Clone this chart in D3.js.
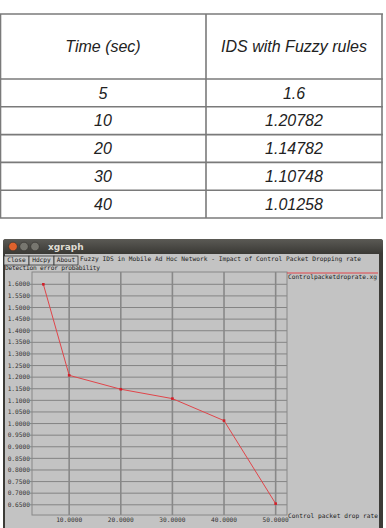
<!DOCTYPE html>
<html>
<head>
<meta charset="utf-8">
<script src="https://cdn.jsdelivr.net/npm/d3@7"></script>
<style>
  body { margin: 0; background: #fff; }
  svg { display: block; }
</style>
</head>
<body>
<div id="chart"></div>
<script>
// table data
const tableHeaders = ['Time (sec)', 'IDS with Fuzzy rules'];
const tableTimes = ['5', '10', '20', '30', '40'];
const tableFuzzy = ['1.6', '1.20782', '1.14782', '1.10748', '1.01258'];

// xgraph data
const graphX = [5, 10, 20, 30, 40, 50];
const graphY = [1.6, 1.20782, 1.14782, 1.10748, 1.01258, 0.655];
const xTicks = [10, 20, 30, 40, 50];
const yTicks = d3.range(0.65, 1.6001, 0.05);
const graphTitle = 'Fuzzy IDS in Mobile Ad Hoc Network - Impact of Control Packet Dropping rate';
const yAxisLabel = 'Detection error probability';
const xAxisLabel = 'Control packet drop rate';
const legendLabel = 'Controlpacketdroprate.xg';
const windowButtons = ['Close', 'Hdcpy', 'About'];

const width = 386;
const height = 528;

const svg = d3.select('#chart')
  .append('svg')
  .attr('width', width)
  .attr('height', height);

// ---------- table ----------
const tableLeft = 0;
const tableRight = 382;
const colSplit = 206;
const headerTop = 14;
const headerBottom = 79;
const rowH = 27.8;
const lineColor = '#7a7a7a';

const rowScale = d3.scaleLinear()
  .domain([0, tableTimes.length])
  .range([headerBottom, headerBottom + rowH * tableTimes.length]);

const table = svg.append('g');

const hLines = [headerTop].concat(d3.range(tableTimes.length + 1).map(i => rowScale(i)));
table.selectAll('line.h')
  .data(hLines)
  .enter()
  .append('line')
  .attr('x1', tableLeft)
  .attr('x2', tableRight + 1)
  .attr('y1', d => d)
  .attr('y2', d => d)
  .attr('stroke', lineColor)
  .attr('stroke-width', 1.6);

table.selectAll('line.v')
  .data([tableLeft + 0.5, colSplit, tableRight])
  .enter()
  .append('line')
  .attr('x1', d => d)
  .attr('x2', d => d)
  .attr('y1', headerTop)
  .attr('y2', rowScale(tableTimes.length))
  .attr('stroke', lineColor)
  .attr('stroke-width', 1.6);

const col1 = (tableLeft + colSplit) / 2;
const col2 = (colSplit + tableRight) / 2;

table.selectAll('text.head')
  .data(tableHeaders)
  .enter()
  .append('text')
  .attr('x', (d, i) => (i === 0 ? col1 : col2))
  .attr('y', (headerTop + headerBottom) / 2)
  .attr('dy', '0.35em')
  .attr('text-anchor', 'middle')
  .attr('font-family', 'Liberation Sans, Arial, sans-serif')
  .attr('font-style', 'italic')
  .attr('font-size', 16)
  .attr('fill', '#222')
  .text(d => d);

tableTimes.forEach(function (t, i) {
  const cy = (rowScale(i) + rowScale(i + 1)) / 2;
  [t, tableFuzzy[i]].forEach(function (v, j) {
    table.append('text')
      .attr('x', j === 0 ? col1 : col2)
      .attr('y', cy)
      .attr('dy', '0.35em')
      .attr('text-anchor', 'middle')
      .attr('font-family', 'Liberation Sans, Arial, sans-serif')
      .attr('font-style', 'italic')
      .attr('font-size', 16)
      .attr('fill', '#222')
      .text(v);
  });
});

// ---------- xgraph window ----------
const win = svg.append('g');
const winLeft = 3;
const winRight = 383;
const winTop = 239;
const barH = 15;
const mono = 'DejaVu Sans Mono, Liberation Mono, monospace';

const defs = svg.append('defs');
const grad = defs.append('linearGradient')
  .attr('id', 'titlebar')
  .attr('x1', 0).attr('x2', 0).attr('y1', 0).attr('y2', 1);
grad.append('stop').attr('offset', '0%').attr('stop-color', '#5b5a55');
grad.append('stop').attr('offset', '100%').attr('stop-color', '#3a3935');

// frame
win.append('rect')
  .attr('x', winLeft)
  .attr('y', winTop)
  .attr('width', winRight - winLeft)
  .attr('height', height - winTop + 5)
  .attr('rx', 3)
  .attr('fill', '#3c3b37');

win.append('rect')
  .attr('x', winLeft)
  .attr('y', winTop)
  .attr('width', winRight - winLeft)
  .attr('height', barH)
  .attr('rx', 3)
  .attr('fill', 'url(#titlebar)');

// body
win.append('rect')
  .attr('x', 5)
  .attr('y', winTop + barH)
  .attr('width', 374)
  .attr('height', height - winTop - barH)
  .attr('fill', '#c3c3c3');

// title bar buttons
win.selectAll('circle.tb')
  .data(['#e0622d', '#77766f', '#77766f'])
  .enter()
  .append('circle')
  .attr('cx', (d, i) => 13 + i * 11)
  .attr('cy', winTop + 7.5)
  .attr('r', 4.3)
  .attr('fill', d => d)
  .attr('stroke', '#2f2e2a')
  .attr('stroke-width', 0.6);

win.append('text')
  .attr('x', 48)
  .attr('y', winTop + 7.5)
  .attr('dy', '0.35em')
  .attr('font-family', 'DejaVu Sans, sans-serif')
  .attr('font-weight', 'bold')
  .attr('font-size', 9)
  .attr('fill', '#dfdbd2')
  .text('xgraph');

// plot area
const plotLeft = 32;
const plotRight = 287;
const plotTop = 272;
const plotBottom = 515;

const xScale = d3.scaleLinear().domain([2.8, 52.2]).range([plotLeft, plotRight]);
const yScale = d3.scaleLinear().domain([0.606, 1.653]).range([plotBottom, plotTop]);

// title and y label
win.append('text')
  .attr('x', 80)
  .attr('y', 261)
  .attr('font-family', mono)
  .attr('font-size', 6.2)
  .attr('fill', '#222')
  .attr('textLength', 281)
  .text(graphTitle);

win.append('text')
  .attr('x', 5)
  .attr('y', 270)
  .attr('font-family', mono)
  .attr('font-size', 6.2)
  .attr('fill', '#222')
  .attr('textLength', 95)
  .text(yAxisLabel);

// window buttons
const btnX = [4, 29, 54];
const btnW = [25, 25, 24];
windowButtons.forEach(function (b, i) {
  win.append('rect')
    .attr('x', btnX[i])
    .attr('y', 256)
    .attr('width', btnW[i])
    .attr('height', 9)
    .attr('fill', '#c8c8c8')
    .attr('stroke', '#333')
    .attr('stroke-width', 0.8);
  win.append('text')
    .attr('x', btnX[i] + btnW[i] / 2)
    .attr('y', 260)
    .attr('dy', '0.35em')
    .attr('text-anchor', 'middle')
    .attr('font-family', mono)
    .attr('font-size', 6.2)
    .attr('fill', '#222')
    .text(b);
});

// grid
const grid = win.append('g');
grid.selectAll('line.hy')
  .data(yTicks)
  .enter()
  .append('line')
  .attr('x1', plotLeft - 2)
  .attr('x2', plotRight)
  .attr('y1', d => yScale(d))
  .attr('y2', d => yScale(d))
  .attr('stroke', '#7d7d7d')
  .attr('stroke-width', 0.9);

grid.selectAll('line.vx')
  .data(xTicks)
  .enter()
  .append('line')
  .attr('x1', d => xScale(d))
  .attr('x2', d => xScale(d))
  .attr('y1', plotTop)
  .attr('y2', plotBottom)
  .attr('stroke', '#888')
  .attr('stroke-width', 1.6);

grid.append('rect')
  .attr('x', plotLeft)
  .attr('y', plotTop)
  .attr('width', plotRight - plotLeft)
  .attr('height', plotBottom - plotTop)
  .attr('fill', 'none')
  .attr('stroke', '#888')
  .attr('stroke-width', 1);

// tick labels
const fmt = d3.format('.4f');
grid.selectAll('text.yl')
  .data(yTicks)
  .enter()
  .append('text')
  .attr('x', plotLeft - 2)
  .attr('y', d => yScale(d))
  .attr('dy', '0.35em')
  .attr('text-anchor', 'end')
  .attr('font-family', mono)
  .attr('font-size', 6.2)
  .attr('fill', '#333')
  .text(d => fmt(d));

grid.selectAll('text.xl')
  .data(xTicks)
  .enter()
  .append('text')
  .attr('x', d => xScale(d))
  .attr('y', plotBottom + 5)
  .attr('dy', '0.35em')
  .attr('text-anchor', 'middle')
  .attr('font-family', mono)
  .attr('font-size', 6.2)
  .attr('fill', '#333')
  .text(d => fmt(d));

// data line
const pts = graphX.map((x, i) => [x, graphY[i]]);
const line = d3.line().x(d => xScale(d[0])).y(d => yScale(d[1]));

win.append('path')
  .datum(pts)
  .attr('d', line)
  .attr('fill', 'none')
  .attr('stroke', '#e0454a')
  .attr('stroke-width', 1);

win.selectAll('rect.pt')
  .data(pts)
  .enter()
  .append('rect')
  .attr('x', d => xScale(d[0]) - 1.3)
  .attr('y', d => yScale(d[1]) - 1.3)
  .attr('width', 2.6)
  .attr('height', 2.6)
  .attr('fill', '#d0202a');

// legend
win.append('line')
  .attr('x1', plotRight)
  .attr('x2', 378)
  .attr('y1', 273)
  .attr('y2', 273)
  .attr('stroke', '#e0454a')
  .attr('stroke-width', 1);

win.append('text')
  .attr('x', plotRight + 1)
  .attr('y', 276.5)
  .attr('dy', '0.35em')
  .attr('font-family', mono)
  .attr('font-size', 6.2)
  .attr('fill', '#222')
  .attr('textLength', 89)
  .text(legendLabel);

win.append('text')
  .attr('x', plotRight + 1)
  .attr('y', 515.5)
  .attr('dy', '0.35em')
  .attr('font-family', mono)
  .attr('font-size', 6.2)
  .attr('fill', '#222')
  .attr('textLength', 90)
  .text(xAxisLabel);
</script>
</body>
</html>
